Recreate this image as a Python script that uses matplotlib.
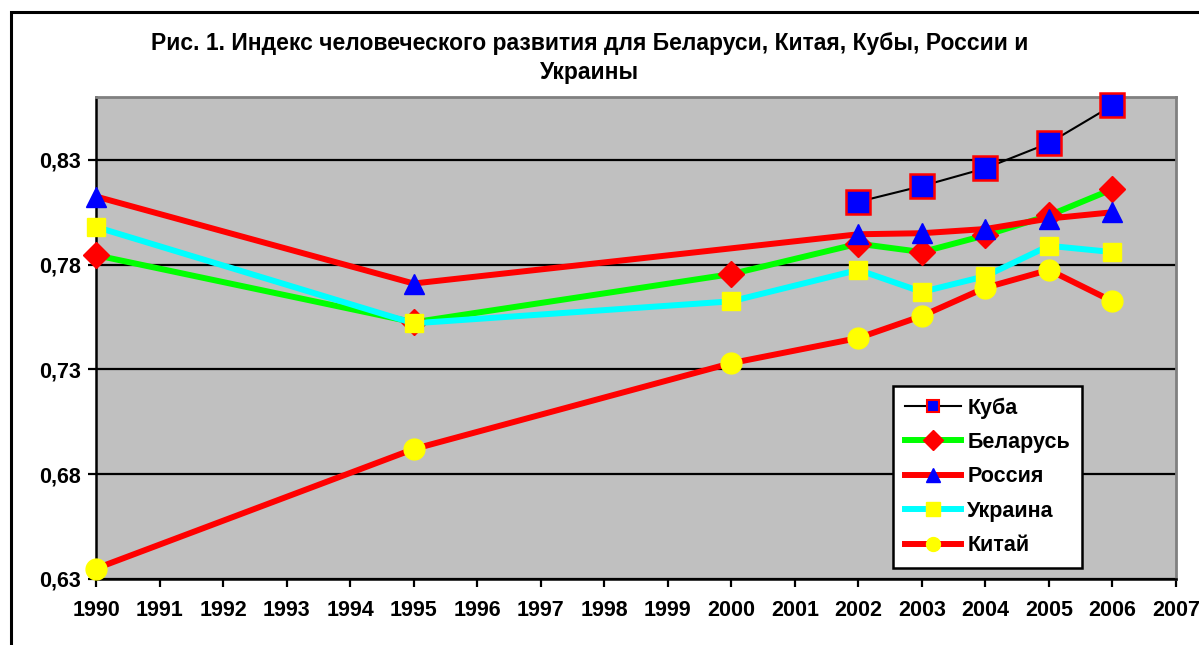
import matplotlib.pyplot as plt
from matplotlib.lines import Line2D
from matplotlib.patches import Rectangle
from matplotlib.ticker import FuncFormatter

plt.rcParams['font.family'] = ['Liberation Sans', 'DejaVu Sans']
plt.rcParams['font.weight'] = 'bold'

years_all = [1990, 1995, 2000, 2002, 2003, 2004, 2005, 2006]
years_cuba = [2002, 2003, 2004, 2005, 2006]
years_russia = [1990, 1995, 2002, 2003, 2004, 2005, 2006]

cuba = [0.810, 0.8175, 0.826, 0.838, 0.856]
belarus = [0.7845, 0.7525, 0.7755, 0.790, 0.786, 0.794, 0.8035, 0.816]
russia = [0.8125, 0.771, 0.7945, 0.795, 0.797, 0.802, 0.805]
ukraine = [0.798, 0.752, 0.7625, 0.7775, 0.767, 0.7745, 0.789, 0.786]
china = [0.635, 0.692, 0.733, 0.745, 0.7555, 0.769, 0.7775, 0.7625]

title = "Рис. 1. Индекс человеческого развития для Беларуси, Китая, Кубы, России и\nУкраины"

# style per series: (label, x, y, line colour, lw, marker, ms, face, edge)
series = [
    ("Куба", years_cuba, cuba, "black", 1.5, "s", 17, "#0000FF", "#FF0000"),
    ("Беларусь", years_all, belarus, "#00FF00", 4.3, "D", 13, "#FF0000", "#FF0000"),
    ("Россия", years_russia, russia, "#FF0000", 4.3, "^", 14, "#0000FF", "#0000FF"),
    ("Украина", years_all, ukraine, "#00FFFF", 4.3, "s", 13, "#FFFF00", "#FFFF00"),
    ("Китай", years_all, china, "#FF0000", 4.3, "o", 15, "#FFFF00", "#FFFF00"),
]

fig = plt.figure(figsize=(11.99, 6.45), dpi=100)
ax = fig.add_axes([96 / 1199, 1 - 579 / 645, 1080 / 1199, 482 / 645])
ax.set_facecolor("#C0C0C0")

handles = []
for label, xs, ys, col, lw, mk, ms, fc, ec in series:
    ax.plot(xs, ys, color=col, lw=lw, marker=mk, ms=ms, mfc=fc, mec=ec,
            mew=1.8 if label == "Куба" else 1, clip_on=False, zorder=3)
    handles.append(Line2D([], [], color=col, lw=lw, marker=mk,
                          ms=8 if label == "Куба" else 10, mfc=fc, mec=ec,
                          mew=1.5 if label == "Куба" else 1))

ax.set_xlim(1990, 2007)
ax.set_ylim(0.63, 0.86)
ax.set_xticks(range(1990, 2008))
ax.set_yticks([0.63, 0.68, 0.73, 0.78, 0.83])
ax.yaxis.set_major_formatter(FuncFormatter(lambda v, p: f"{v:.2f}".replace(".", ",")))
ax.grid(axis="y", color="black", lw=1.6, zorder=1)
ax.set_axisbelow(True)

for s in ["left", "bottom"]:
    ax.spines[s].set_color("black")
    ax.spines[s].set_linewidth(1.8)
for s in ["top", "right"]:
    ax.spines[s].set_color("#808080")
    ax.spines[s].set_linewidth(2)

ax.tick_params(axis="both", direction="out", length=6, width=1.6, labelsize=15.5, colors="black")
ax.tick_params(axis="x", pad=9)
ax.tick_params(axis="y", pad=5)
for t in ax.get_xticklabels() + ax.get_yticklabels():
    t.set_fontweight("bold")

leg = ax.legend(handles, [s[0] for s in series], loc="lower left",
                bbox_to_anchor=(0.738, 0.023), fontsize=15.5, frameon=True,
                fancybox=False, edgecolor="black", framealpha=1,
                handlelength=2.6, labelspacing=0.62, borderpad=0.55,
                handletextpad=0.3, borderaxespad=0)
leg.get_frame().set_linewidth(1.8)
for t in leg.get_texts():
    t.set_fontweight("bold")

fig.text(0.492, 0.91, title, ha="center", va="center", fontsize=16.5,
         fontweight="bold", linespacing=1.35)

fig.patches.append(Rectangle((11 / 1199, -0.05), 1.2, 1 - 12 / 645 + 0.05,
                             transform=fig.transFigure, fill=False,
                             edgecolor="black", lw=2.2))

fig.savefig("out.png", dpi=100)
